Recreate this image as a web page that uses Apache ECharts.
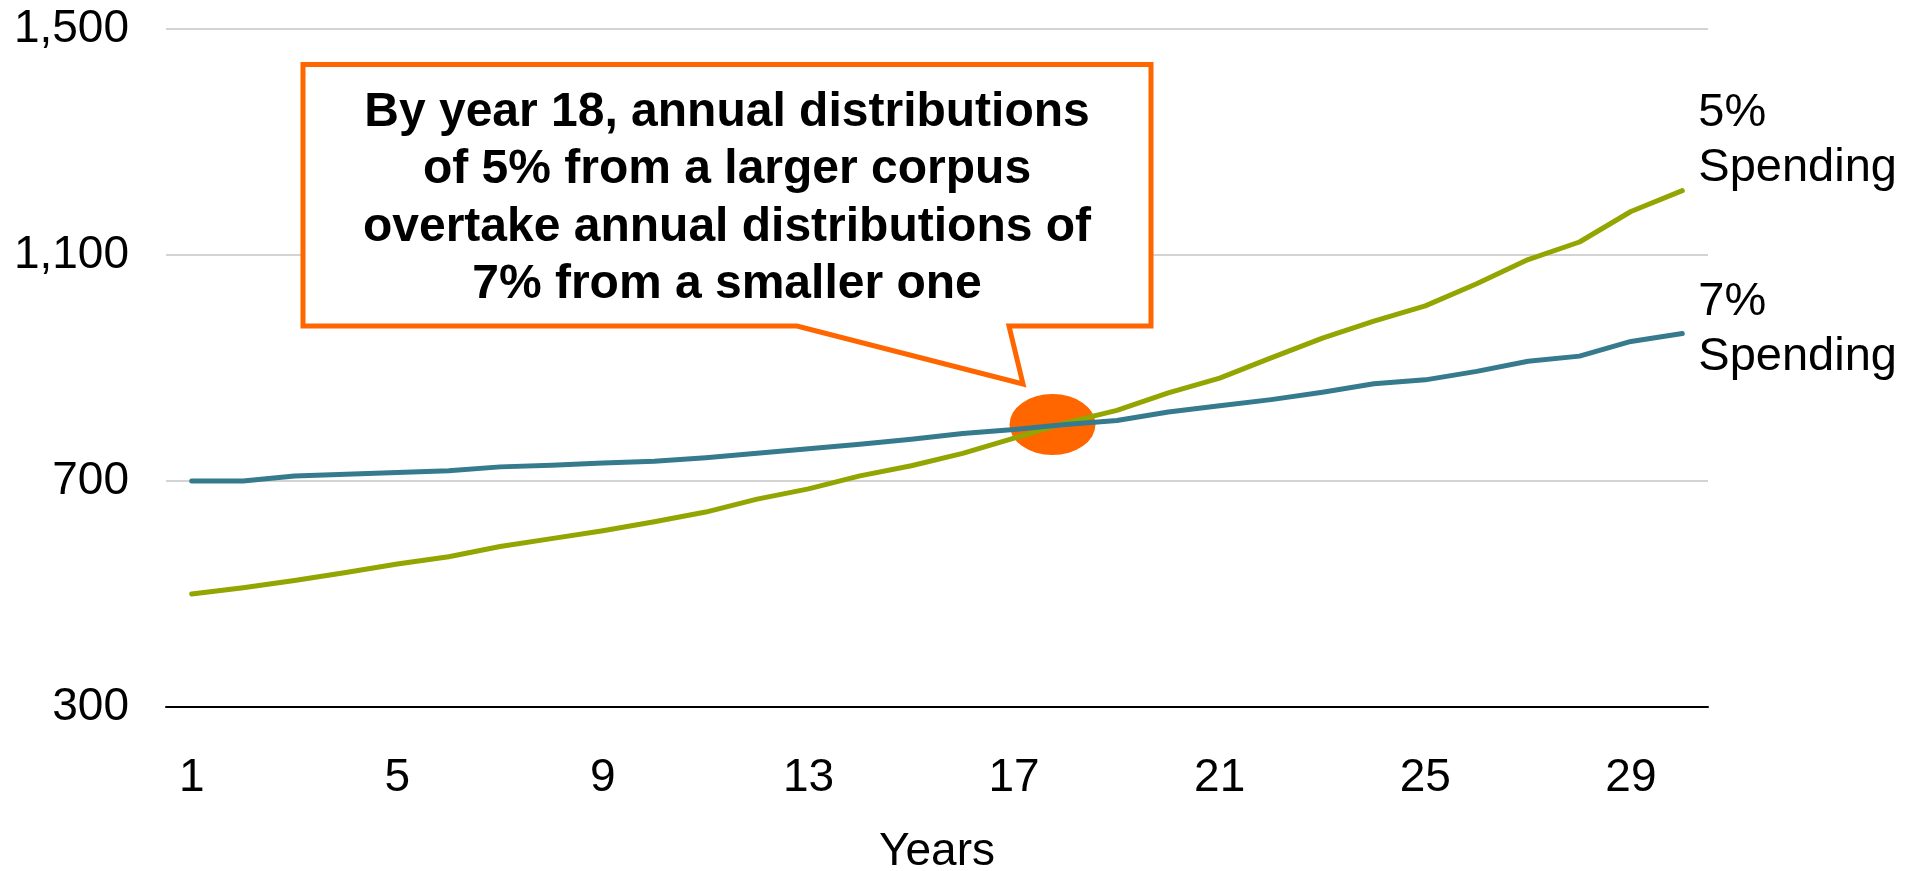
<!DOCTYPE html>
<html>
<head>
<meta charset="utf-8">
<title>5% vs 7% Spending</title>
<script src="https://cdn.jsdelivr.net/npm/echarts@6/dist/echarts.min.js"></script>
<style>
  html, body { margin: 0; padding: 0; background: #ffffff; }
  #chart { width: 1919px; height: 871px; }
</style>
</head>
<body>
<div id="chart"></div>
<script>
// Years on the horizontal axis
const years = ['1','2','3','4','5','6','7','8','9','10','11','12','13','14','15',
               '16','17','18','19','20','21','22','23','24','25','26','27','28','29','30'];

// Annual distributions under a 5% spending rule
const spending5 = [500, 511, 524, 538, 553, 566, 584, 598, 612, 628,
                   645, 668, 686, 709, 727, 749, 776, 803, 825, 856,
                   882, 918, 953, 983, 1010, 1049, 1092, 1123, 1177, 1214];

// Annual distributions under a 7% spending rule
const spending7 = [700, 700, 709, 712, 715, 718, 725, 728, 732, 735,
                   741, 749, 757, 765, 774, 784, 791, 800, 807, 822,
                   833, 844, 857, 872, 879, 894, 912, 921, 947, 961];

// Value-axis ticks
const yTicks = [300, 700, 1100, 1500];

// Where the two paths cross
const crossover = { year: '18', value: 800 };

const calloutText = [
  'By year 18, annual distributions',
  'of 5% from a larger corpus',
  'overtake annual distributions of',
  '7% from a smaller one'
].join('\n');

const GREEN = '#93A500';
const TEAL = '#357B8D';
const ORANGE = '#FF6600';
const FONT = '"Liberation Sans", Arial, Helvetica, sans-serif';

const chart = echarts.init(document.getElementById('chart'), null, { renderer: 'canvas' });

chart.setOption({
  animation: false,
  backgroundColor: '#ffffff',
  textStyle: { fontFamily: FONT, color: '#000' },
  grid: {
    left: 166, right: 211, top: 29, bottom: 164,
    containLabel: false,
    outerBoundsMode: 'none'
  },
  xAxis: {
    type: 'category',
    data: years,
    boundaryGap: true,
    name: 'Years',
    nameLocation: 'middle',
    nameGap: 122,
    nameTextStyle: { fontFamily: FONT, fontSize: 46, color: '#000' },
    axisLine: { show: true, lineStyle: { color: '#000', width: 2 } },
    axisTick: { show: false },
    axisLabel: {
      interval: 3,
      margin: 48,
      fontFamily: FONT,
      fontSize: 46,
      color: '#000'
    },
    splitLine: { show: false }
  },
  yAxis: {
    type: 'value',
    min: yTicks[0],
    max: yTicks[yTicks.length - 1],
    interval: yTicks[1] - yTicks[0],
    axisLine: { show: false },
    axisTick: { show: false },
    axisLabel: {
      margin: 37,
      fontFamily: FONT,
      fontSize: 46,
      color: '#000',
      formatter: v => v.toLocaleString('en-US')
    },
    splitLine: { show: true, lineStyle: { color: '#c4c4c4', width: 1.5 } }
  },
  series: [
    {
      name: 'Crossover',
      type: 'scatter',
      z: 1,
      silent: true,
      symbol: 'circle',
      symbolSize: [86, 61],
      symbolOffset: [-13, 0],
      itemStyle: { color: ORANGE, opacity: 1 },
      data: [[crossover.year, crossover.value]]
    },
    {
      name: '5% Spending',
      type: 'line',
      z: 3,
      data: spending5,
      showSymbol: false,
      symbol: 'none',
      lineStyle: { color: GREEN, width: 5, cap: 'round', join: 'round' },
      itemStyle: { color: GREEN },
      endLabel: {
        show: true,
        formatter: '5%\nSpending',
        fontFamily: FONT,
        fontSize: 47,
        lineHeight: 55,
        color: '#000',
        distance: 16,
        offset: [0, -50],
        align: 'left',
        verticalAlign: 'middle'
      }
    },
    {
      name: '7% Spending',
      type: 'line',
      z: 3,
      data: spending7,
      showSymbol: false,
      symbol: 'none',
      lineStyle: { color: TEAL, width: 5, cap: 'round', join: 'round' },
      itemStyle: { color: TEAL },
      endLabel: {
        show: true,
        formatter: '7%\nSpending',
        fontFamily: FONT,
        fontSize: 47,
        lineHeight: 55,
        color: '#000',
        distance: 16,
        offset: [0, -4],
        align: 'left',
        verticalAlign: 'middle'
      }
    }
  ],
  graphic: [
    {
      // speech-bubble callout pointing at the crossover
      type: 'polygon',
      z: 10,
      shape: {
        points: [
          [303, 64.5], [1151, 64.5], [1151, 326], [1009, 326],
          [1023, 384], [797, 326], [303, 326]
        ]
      },
      style: { fill: '#ffffff', stroke: ORANGE, lineWidth: 5, lineJoin: 'miter' }
    },
    {
      type: 'text',
      z: 11,
      x: 727,
      y: 199,
      style: {
        text: calloutText,
        fontFamily: FONT,
        fontWeight: 'bold',
        fontSize: 48,
        lineHeight: 57.5,
        fill: '#000',
        align: 'center',
        verticalAlign: 'middle'
      }
    }
  ]
});
</script>
</body>
</html>
